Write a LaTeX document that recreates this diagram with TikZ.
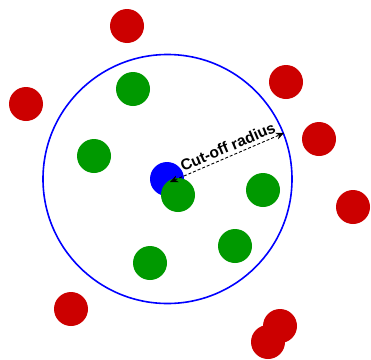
\documentclass[tikz,border=0pt]{standalone}
\usepackage{fontspec}
\setmainfont{Liberation Sans}
\usetikzlibrary{arrows.meta}
\definecolor{dotred}{RGB}{204,0,0}
\definecolor{dotgreen}{RGB}{0,153,0}
\definecolor{dotblue}{RGB}{0,0,255}
\tikzset{
  dot/.style={circle, inner sep=0pt, minimum size=34pt},
  reddot/.style={dot, fill=dotred},
  greendot/.style={dot, fill=dotgreen},
  bluedot/.style={dot, fill=dotblue},
}

\begin{document}
\begin{tikzpicture}[x=1pt,y=-1pt]
	\useasboundingbox (0,0) rectangle (371,359);
	% cut-off sphere
	\node[circle, draw=dotblue, line width=1.6pt, inner sep=0pt, minimum size=249pt] (cut) at (167.5,179) {};
	% neighbours outside
	\node[reddot] (r1) at (127,26) {};
	\node[reddot] (r2) at (26,104) {};
	\node[reddot] (r3) at (286,82) {};
	\node[reddot] (r4) at (319,139) {};
	\node[reddot] (r5) at (353,207) {};
	\node[reddot] (r6) at (71,309) {};
	\node[reddot] (r7) at (280,326) {};
	\node[reddot] (r8) at (268,342) {};
	% central atom
	\node[bluedot] (c) at (167,179) {};
	% neighbours inside
	\node[greendot] (g1) at (133,89) {};
	\node[greendot] (g2) at (94,156) {};
	\node[greendot] (g3) at (178,195) {};
	\node[greendot] (g4) at (263,190) {};
	\node[greendot] (g5) at (235,246) {};
	\node[greendot] (g6) at (150,263) {};
	% radius
	\coordinate (rc) at (170,182);
	\coordinate (re) at (284,133);
	\draw[dash pattern=on 3pt off 2pt, line width=0.9pt, {Stealth[length=8pt,width=7pt]}-{Stealth[length=8pt,width=7pt]}] (rc) -- (re)
		node[pos=0.54, above, sloped, inner sep=3.5pt, font=\fontsize{15.5}{18}\selectfont\bfseries] {Cut-off radius};
\end{tikzpicture}
\end{document}
